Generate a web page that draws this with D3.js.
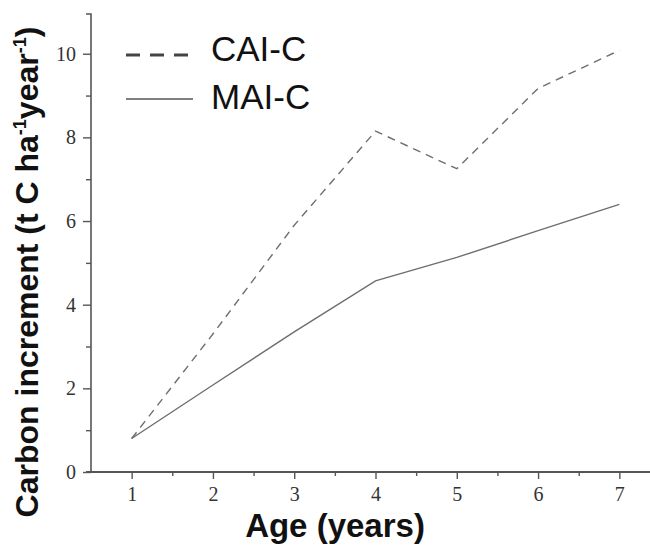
<!DOCTYPE html>
<html>
<head>
<meta charset="utf-8">
<script src="https://cdn.jsdelivr.net/npm/d3@7"></script>
<style>
  html, body { margin: 0; padding: 0; background: #fff; }
  svg { display: block; }
</style>
</head>
<body>
<svg id="chart" width="650" height="550"></svg>
<script>
// Stand age (years) and carbon increments (t C ha-1 year-1)
const ages = [1, 2, 3, 4, 5, 6, 7];
const caiC = [0.8, 3.3, 5.9, 8.15, 7.25, 9.17, 10.08];
const maiC = [0.8, 2.08, 3.35, 4.57, 5.13, 5.77, 6.4];
const seriesNames = ["CAI-C", "MAI-C"];
const xTickValues = [1, 2, 3, 4, 5, 6, 7];
const yTickValues = [0, 2, 4, 6, 8, 10];

const svg = d3.select("#chart");
const plotLeft = 91, plotBottom = 472, plotTop = 14, plotRight = 660;

const x = d3.scaleLinear().domain([0.5, 7.5]).range([plotLeft, plotRight]);
const y = d3.scaleLinear().domain([0, 10.95]).range([plotBottom, plotTop]);

const axisColor = "#555";
const tickFont = "'Liberation Serif', 'Times New Roman', serif";

// y axis with major and minor ticks
const yAxis = svg.append("g").attr("transform", `translate(${plotLeft},0)`);
yAxis.call(d3.axisLeft(y).tickValues(yTickValues).tickSize(8).tickPadding(7).tickFormat(d3.format("d")));
yAxis.append("g").call(d3.axisLeft(y).tickValues([1, 3, 5, 7, 9]).tickSize(5).tickFormat(""))
  .select(".domain").remove();
yAxis.selectAll(".domain").attr("stroke", axisColor).attr("stroke-width", 1.6).attr("d", `M0,${plotBottom}V${plotTop}H-5`);
yAxis.selectAll(".tick line").attr("stroke", axisColor).attr("stroke-width", 1.4);
yAxis.selectAll(".tick text").attr("font-family", tickFont).attr("font-size", 20).attr("fill", "#333");

// x axis with major and minor ticks
const xAxis = svg.append("g").attr("transform", `translate(0,${plotBottom})`);
xAxis.call(d3.axisBottom(x).tickValues(xTickValues).tickSize(7).tickPadding(8).tickFormat(d3.format("d")));
xAxis.append("g").call(d3.axisBottom(x).tickValues([1.5, 2.5, 3.5, 4.5, 5.5, 6.5]).tickSize(4).tickFormat(""))
  .select(".domain").remove();
xAxis.selectAll(".domain").attr("stroke", axisColor).attr("stroke-width", 2).attr("d", `M${plotLeft - 5},0H650`);
xAxis.selectAll(".tick line").attr("stroke", axisColor).attr("stroke-width", 1.4);
xAxis.selectAll(".tick text").attr("font-family", tickFont).attr("font-size", 20).attr("fill", "#333");

// data lines
const line = d3.line().x((d, i) => x(ages[i])).y(d => y(d));
const lineColor = "#6e6e6e";
svg.append("path").datum(caiC).attr("d", line)
  .attr("fill", "none").attr("stroke", lineColor).attr("stroke-width", 1.4)
  .attr("stroke-dasharray", "8,6");
svg.append("path").datum(maiC).attr("d", line)
  .attr("fill", "none").attr("stroke", lineColor).attr("stroke-width", 1.4);

// legend
const legend = svg.append("g").attr("font-family", "'Liberation Sans', Arial, sans-serif");
const legendRows = [
  { name: seriesNames[0], dash: "14,10", width: 3, yPos: 55, base: 61 },
  { name: seriesNames[1], dash: null, width: 1.5, yPos: 99, base: 109 }
];
legendRows.forEach(r => {
  legend.append("line").attr("x1", 126).attr("x2", 193).attr("y1", r.yPos).attr("y2", r.yPos)
    .attr("stroke", r.dash ? "#444" : "#555").attr("stroke-width", r.width)
    .attr("stroke-dasharray", r.dash);
  legend.append("text").attr("x", 211).attr("y", r.base).attr("font-size", 35)
    .attr("fill", "#111").text(r.name);
});

// axis titles
const titleFont = "'Liberation Sans', Arial, sans-serif";
svg.append("text").attr("x", 335).attr("y", 537).attr("text-anchor", "middle")
  .attr("font-family", titleFont).attr("font-weight", "bold").attr("font-size", 33)
  .attr("fill", "#111").text("Age (years)");

const yTitle = svg.append("text").attr("transform", "translate(38,272) rotate(-90)")
  .attr("text-anchor", "middle").attr("font-family", titleFont).attr("font-weight", "bold")
  .attr("font-size", 32).attr("fill", "#111");
yTitle.append("tspan").text("Carbon increment (t C ha");
yTitle.append("tspan").attr("font-size", 18).attr("dy", -12).text("-1");
yTitle.append("tspan").attr("dy", 12).text("year");
yTitle.append("tspan").attr("font-size", 18).attr("dy", -12).text("-1");
yTitle.append("tspan").attr("dy", 12).text(")");
</script>
</body>
</html>
